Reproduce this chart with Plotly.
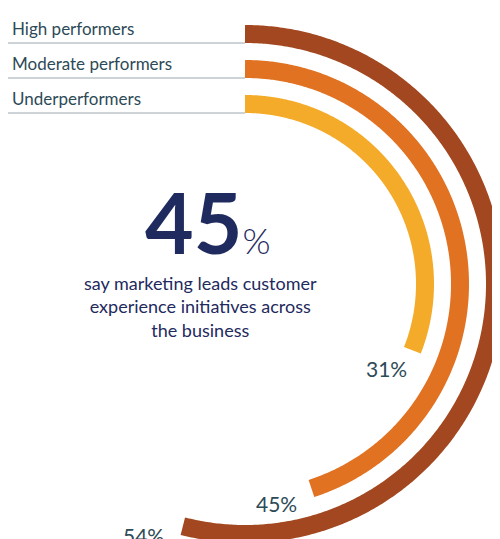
import numpy as np
import plotly.graph_objects as go

groups = ["High performers", "Moderate performers", "Underperformers"]
values = [54, 45, 31]
colors = ["#A2471F", "#E07222", "#F5AB2A"]
radii = [250, 215, 180]

fig = go.Figure()
for g, v, c, r in zip(groups, values, colors, radii):
    th = np.radians(np.linspace(0, v / 100 * 360, 400))
    fig.add_trace(go.Scatter(x=r * np.sin(th), y=r * np.cos(th), mode="lines",
                             line=dict(color=c, width=18, simplify=False), hoverinfo="skip", name=g))
    fig.add_shape(type="line", x0=-240, x1=0, y0=r - 9, y1=r - 9,
                  line=dict(color="#9aa6ad", width=1))
    fig.add_annotation(x=-235, y=r + 6, text=g, showarrow=False, xanchor="left", yanchor="middle",
                       font=dict(family="Lato", size=17, color="#2d4a57"))

label_px = [(135, 519), (268, 487), (378, 352)]
for v, (px, py) in zip(values, label_px):
    fig.add_annotation(x=px - 237, y=268 - py, text=f"{v}%", showarrow=False,
                       font=dict(family="Lato", size=21, color="#2d4a57"))

fig.add_annotation(x=200 - 237, y=268 - 205, showarrow=False,
                   text="<b>45</b><span style='font-size:36px;font-weight:300'>%</span>",
                   font=dict(family="Lato", size=84, color="#1f2a5e"))
fig.add_annotation(x=192 - 237, y=268 - 290, showarrow=False,
                   text="say marketing leads customer<br>experience initiatives across<br>the business",
                   font=dict(family="Lato", size=18, color="#1f2a5e"))

fig.update_layout(width=500, height=539, margin=dict(l=0, r=0, t=0, b=0),
                  plot_bgcolor="white", paper_bgcolor="white", showlegend=False,
                  xaxis=dict(range=[-237, 263], visible=False, fixedrange=True),
                  yaxis=dict(range=[-263, 276], visible=False, fixedrange=True))
fig.write_html("out.html")
